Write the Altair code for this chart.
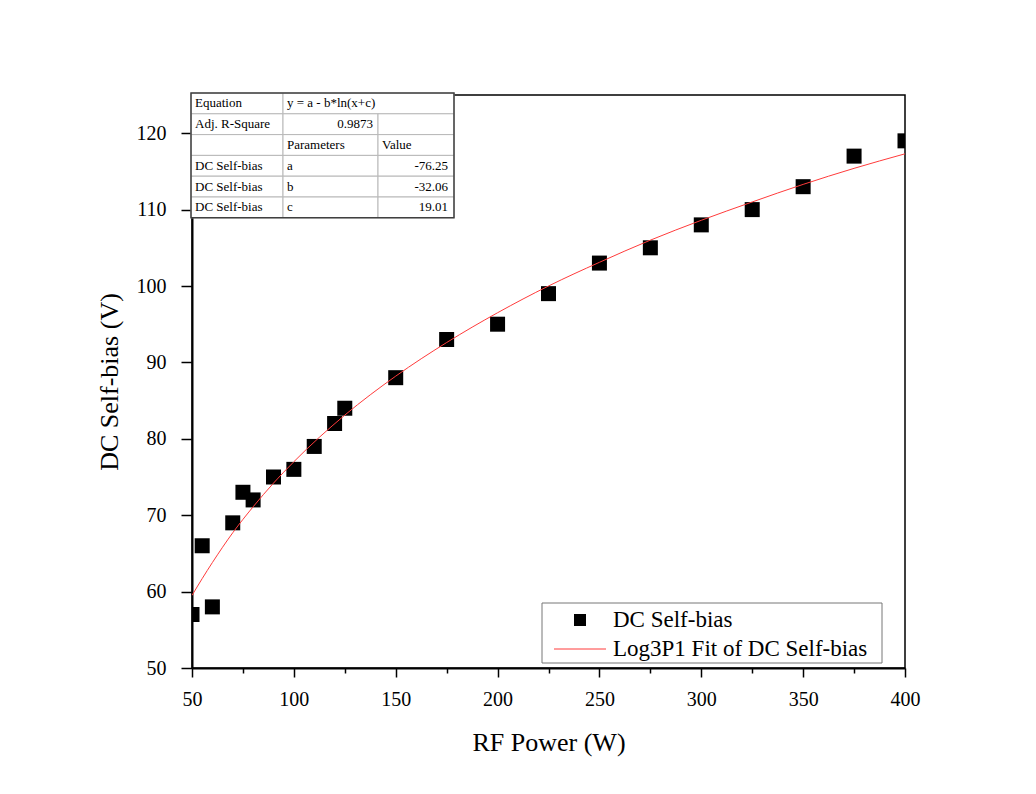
import altair as alt
import pandas as pd

# ---- data ----
power = [50, 55, 60, 70, 75, 80, 90, 100, 110, 120, 125, 150, 175, 200, 225, 250, 275, 300, 325, 350, 375, 400]
bias = [57, 66, 58, 69, 73, 72, 75, 76, 79, 82, 84, 88, 93, 95, 99, 103, 105, 108, 110, 113, 117, 119]

fit_x = [50, 55, 60, 70, 80, 90, 100, 125, 150, 175, 200, 225, 250, 275, 300, 325, 350, 375, 400]
fit_y = [59.5, 61.7, 63.8, 67.7, 71.1, 74.2, 77.0, 83.1, 88.2, 92.6, 96.5, 100.0, 103.1, 106.0, 108.6, 111.0, 113.3, 115.4, 117.3]

x_ticks = [50, 75, 100, 125, 150, 175, 200, 225, 250, 275, 300, 325, 350, 375, 400]
y_ticks = [50, 55, 60, 65, 70, 75, 80, 85, 90, 95, 100, 105, 110, 115, 120, 125]

series_names = ["DC Self-bias", "Log3P1 Fit of DC Self-bias"]

# inset table contents
tbl_equation = ["Equation", "y = a - b*ln(x+c)"]
tbl_r2 = ["Adj. R-Square", "0.9873"]
tbl_head = ["Parameters", "Value"]
tbl_params = ["a", "b", "c"]
tbl_values = ["-76.25", "-32.06", "19.01"]

FONT = "Liberation Serif"
W, H = 713, 573

# ---- main data layers ----
pts = pd.DataFrame({"power": power, "bias": bias})
fit = pd.DataFrame({"power": fit_x, "bias": fit_y})

xs = alt.Scale(domain=[50, 400], nice=False, zero=False)
ys = alt.Scale(domain=[50, 125], nice=False, zero=False)

x_axis = alt.Axis(
    values=x_ticks, title="RF Power (W)",
    labelExpr="datum.value % 50 === 0 ? datum.label : ''",
    tickSize={"condition": {"test": "datum.value % 50 === 0", "value": 9}, "value": 5},
    labelPadding=12, titlePadding=20, labelFlush=False,
)
y_axis = alt.Axis(
    values=y_ticks, title="DC Self-bias (V)",
    labelExpr="datum.value % 10 === 0 && datum.value <= 120 ? datum.label : ''",
    tickSize={"condition": {"test": "datum.value % 10 === 0", "value": 11}, "value": 6},
    labelPadding=15, titlePadding=14, labelFlush=False,
)

points = alt.Chart(pts).mark_square(size=225, color="black", opacity=1, clip=True).encode(
    x=alt.X("power:Q", scale=xs, axis=x_axis),
    y=alt.Y("bias:Q", scale=ys, axis=y_axis),
)
fitline = alt.Chart(fit).mark_line(color="#ff3b3b", strokeWidth=1, clip=True, interpolate="monotone").encode(
    x=alt.X("power:Q", scale=xs),
    y=alt.Y("bias:Q", scale=ys),
)
data_layer = alt.layer(points, fitline)

# ---- overlay (inset table + legend) in layout units of the plot area ----
col_edges = [-1, 91, 186, 262]
row_edges = [-2, 18.8, 39.6, 60.4, 81.2, 102, 122.8]

cells = []
cells.append({"x0": col_edges[0], "x1": col_edges[1], "y0": row_edges[0], "y1": row_edges[1]})
cells.append({"x0": col_edges[1], "x1": col_edges[3], "y0": row_edges[0], "y1": row_edges[1]})
for r in range(1, 6):
    for c in range(3):
        cells.append({"x0": col_edges[c], "x1": col_edges[c + 1], "y0": row_edges[r], "y1": row_edges[r + 1]})
cells_df = pd.DataFrame(cells)
outer_df = pd.DataFrame([{"x0": col_edges[0], "x1": col_edges[3], "y0": row_edges[0], "y1": row_edges[6]}])

def rc(r):
    return (row_edges[r] + row_edges[r + 1]) / 2

left_txt = [
    {"x": col_edges[0] + 4, "y": rc(0), "t": tbl_equation[0]},
    {"x": col_edges[1] + 4, "y": rc(0), "t": tbl_equation[1]},
    {"x": col_edges[0] + 4, "y": rc(1), "t": tbl_r2[0]},
    {"x": col_edges[1] + 4, "y": rc(2), "t": tbl_head[0]},
    {"x": col_edges[2] + 4, "y": rc(2), "t": tbl_head[1]},
]
for i in range(3):
    left_txt.append({"x": col_edges[0] + 4, "y": rc(3 + i), "t": series_names[0]})
    left_txt.append({"x": col_edges[1] + 4, "y": rc(3 + i), "t": tbl_params[i]})
right_txt = [{"x": col_edges[2] - 5, "y": rc(1), "t": tbl_r2[1]}]
for i in range(3):
    right_txt.append({"x": col_edges[3] - 6, "y": rc(3 + i), "t": tbl_values[i]})

oxs = alt.Scale(domain=[0, W], nice=False, zero=False)
oys = alt.Scale(domain=[0, H], nice=False, zero=False, reverse=True)

def rect_layer(df, **kw):
    return alt.Chart(df).mark_rect(**kw).encode(
        x=alt.X("x0:Q", scale=oxs, axis=None), x2="x1:Q",
        y=alt.Y("y0:Q", scale=oys, axis=None), y2="y1:Q",
    )

def text_layer(df, align, size, **kw):
    return alt.Chart(df).mark_text(align=align, baseline="middle", font=FONT, fontSize=size,
                                   color="black", **kw).encode(
        x=alt.X("x:Q", scale=oxs, axis=None),
        y=alt.Y("y:Q", scale=oys, axis=None),
        text="t:N",
    )

tbl_cells = rect_layer(cells_df, fill="white", stroke="#b8b8b8", strokeWidth=1)
tbl_outer = rect_layer(outer_df, stroke="#404040", strokeWidth=1.5, filled=False)
tbl_left = text_layer(pd.DataFrame(left_txt), "left", 13)
tbl_right = text_layer(pd.DataFrame(right_txt), "right", 13)

# legend
leg_box_df = pd.DataFrame([{"x0": 350, "x1": 690, "y0": 508, "y1": 568}])
leg_box = rect_layer(leg_box_df, fill="white", stroke="#777777", strokeWidth=1)
leg_marker = alt.Chart(pd.DataFrame([{"x": 388, "y": 525}])).mark_square(size=144, color="black", opacity=1).encode(
    x=alt.X("x:Q", scale=oxs, axis=None), y=alt.Y("y:Q", scale=oys, axis=None))
leg_line = alt.Chart(pd.DataFrame([{"x": 362, "x2": 414, "y": 554}])).mark_rule(color="#ff3b3b", strokeWidth=1).encode(
    x=alt.X("x:Q", scale=oxs, axis=None), x2="x2:Q", y=alt.Y("y:Q", scale=oys, axis=None))
leg_text = text_layer(pd.DataFrame([{"x": 421, "y": 525, "t": series_names[0]},
                                    {"x": 421, "y": 554, "t": series_names[1]}]), "left", 23)

overlay = alt.layer(tbl_cells, tbl_outer, tbl_left, tbl_right, leg_box, leg_marker, leg_line, leg_text)

chart = alt.layer(data_layer, overlay).resolve_scale(x="independent", y="independent").properties(
    width=W, height=H,
    autosize=alt.AutoSizeParams(type="none"),
    padding={"left": 192, "top": 95, "right": 131, "bottom": 126},
    background="white",
).configure_view(stroke="black", strokeWidth=1.5).configure_axis(
    domainColor="black", domainWidth=2, tickColor="black", tickWidth=1.5,
    labelFont=FONT, labelFontSize=20, labelColor="black",
    titleFont=FONT, titleFontSize=26, titleFontWeight="normal", titleColor="black",
    grid=False,
)

chart.save("out.html", embed_options={"renderer": "svg", "actions": False})
